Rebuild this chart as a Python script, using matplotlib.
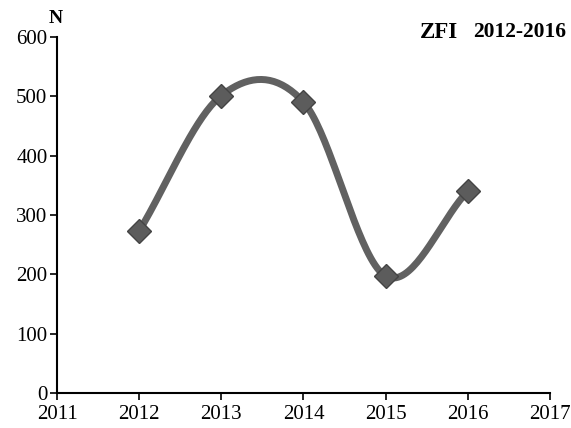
import matplotlib
matplotlib.use("Agg")
import matplotlib.pyplot as plt
import numpy as np

years = [2012, 2013, 2014, 2015, 2016]
counts = [273, 501, 490, 197, 340]
x_ticks = [2011, 2012, 2013, 2014, 2015, 2016, 2017]
y_ticks = [0, 100, 200, 300, 400, 500, 600]


def catmull_rom(xs, ys, steps=40):
    # smooth curve through the points, like a spreadsheet "smoothed line"
    xs = np.asarray(xs, float)
    ys = np.asarray(ys, float)
    px = np.concatenate([[2 * xs[0] - xs[1]], xs, [2 * xs[-1] - xs[-2]]])
    py = np.concatenate([[2 * ys[0] - ys[1]], ys, [2 * ys[-1] - ys[-2]]])
    out_x, out_y = [], []
    t = np.linspace(0, 1, steps)
    for i in range(1, len(px) - 2):
        for p, out in ((px, out_x), (py, out_y)):
            p0, p1, p2, p3 = p[i - 1], p[i], p[i + 1], p[i + 2]
            m1 = (p2 - p0) / 2
            m2 = (p3 - p1) / 2
            h00 = 2 * t**3 - 3 * t**2 + 1
            h10 = t**3 - 2 * t**2 + t
            h01 = -2 * t**3 + 3 * t**2
            h11 = t**3 - t**2
            out.extend(h00 * p1 + h10 * m1 + h01 * p2 + h11 * m2)
    return np.array(out_x), np.array(out_y)


plt.rcParams["font.family"] = ["Liberation Serif", "DejaVu Serif"]

fig = plt.figure(figsize=(5.71, 4.28), dpi=100)
ax = fig.add_axes([0.1, 0.082, 0.863, 0.832])

sx, sy = catmull_rom(years, counts)
ax.plot(sx, sy, color="#616161", linewidth=5, solid_capstyle="round", zorder=2)
ax.plot(years, counts, linestyle="none", marker="D", markersize=12,
        markerfacecolor="#5c5c5c", markeredgecolor="#444444", markeredgewidth=1, zorder=3)

ax.set_xlim(2011, 2017)
ax.set_ylim(0, 600)
ax.set_xticks(x_ticks)
ax.set_yticks(y_ticks)
ax.tick_params(labelsize=15, direction="out", length=5, width=1.2, colors="black")
ax.tick_params(axis="x", pad=4)
ax.tick_params(axis="y", pad=2)
for s in ["top", "right"]:
    ax.spines[s].set_visible(False)
for s in ["left", "bottom"]:
    ax.spines[s].set_linewidth(1.5)

fig.text(0.097, 0.957, "N", fontsize=14, fontweight="bold", ha="center", va="center")
fig.text(0.768, 0.925, "ZFI", fontsize=16.5, fontweight="bold", ha="center", va="center")
fig.text(0.991, 0.925, "2012-2016", fontsize=15.5, fontweight="bold", ha="right", va="center")

fig.savefig("out.png", dpi=100)
